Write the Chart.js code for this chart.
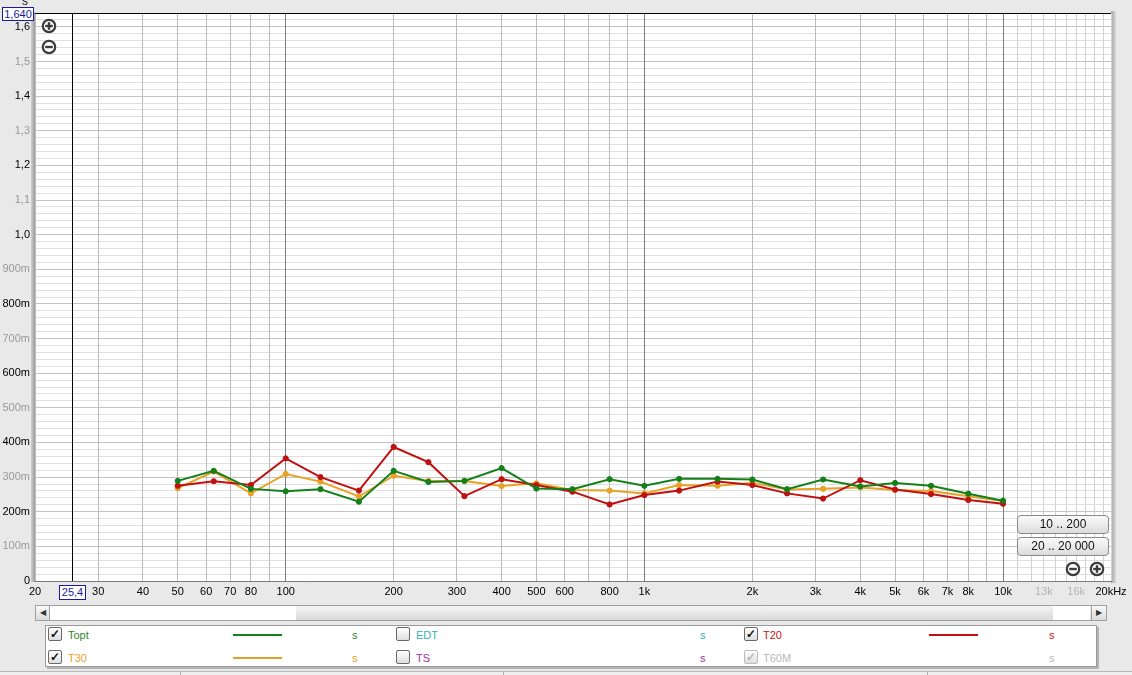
<!DOCTYPE html>
<html>
<head>
<meta charset="utf-8">
<script src="https://cdn.jsdelivr.net/npm/chart.js@4/dist/chart.umd.min.js"></script>
<style>
  html, body { margin:0; padding:0; }
  body { width:1132px; height:675px; overflow:hidden; position:relative; background:#e9e9e9; font-family:"Liberation Sans", Arial, sans-serif; font-size:11px; }
  #c { position:absolute; left:0; top:0; }
  .abs { position:absolute; }
  .vbox { position:absolute; background:#fff; border:1px solid #1a1a9a; color:#1a1a9a; font-size:11px; line-height:13px; text-align:center; box-sizing:border-box; }
  .btn { position:absolute; box-sizing:border-box; border:1px solid #8a8a8a; border-radius:4px; background:linear-gradient(#fbfbfb,#dcdcdc); font-size:12px; line-height:16px; text-align:center; color:#111; }
  .cb { position:absolute; width:14px; height:14px; box-sizing:border-box; border:1px solid #6a6a6a; border-radius:2px; background:linear-gradient(#ffffff,#dedede); font-size:12px; line-height:12px; text-align:center; color:#111; font-weight:bold; }
  .cb.dis { border-color:#bdbdbd; color:#b8b8b8; }
  .lbl { position:absolute; font-size:11px; line-height:13px; }
  .smp { position:absolute; height:2px; }
</style>
</head>
<body>
<canvas id="c" width="1132" height="600"></canvas>

<div class="abs" style="left:22px;top:-6px;font-size:12px;color:#111;">s</div>
<div class="vbox" style="left:2px;top:7px;width:32px;height:14px;">1,640</div>
<div class="vbox" style="left:59px;top:585px;width:27px;height:15px;">25,4</div>

<svg class="abs" style="left:40px;top:17px" width="18" height="18"><circle cx="9" cy="9" r="6.2" fill="#fff" stroke="#3c3c3c" stroke-width="2.2"/><line x1="5.2" y1="9" x2="12.8" y2="9" stroke="#3c3c3c" stroke-width="2.4"/><line x1="9" y1="5.2" x2="9" y2="12.8" stroke="#3c3c3c" stroke-width="2.4"/></svg>
<svg class="abs" style="left:40px;top:38px" width="18" height="18"><circle cx="9" cy="9" r="6.2" fill="#fff" stroke="#3c3c3c" stroke-width="2.2"/><line x1="5.2" y1="9" x2="12.8" y2="9" stroke="#3c3c3c" stroke-width="2.4"/></svg>
<svg class="abs" style="left:1064px;top:560px" width="18" height="18"><circle cx="9" cy="9" r="6.2" fill="#fff" stroke="#3c3c3c" stroke-width="2.2"/><line x1="5.2" y1="9" x2="12.8" y2="9" stroke="#3c3c3c" stroke-width="2.4"/></svg>
<svg class="abs" style="left:1088px;top:560px" width="18" height="18"><circle cx="9" cy="9" r="6.2" fill="#fff" stroke="#3c3c3c" stroke-width="2.2"/><line x1="5.2" y1="9" x2="12.8" y2="9" stroke="#3c3c3c" stroke-width="2.4"/><line x1="9" y1="5.2" x2="9" y2="12.8" stroke="#3c3c3c" stroke-width="2.4"/></svg>

<div class="btn" style="left:1017px;top:515px;width:92px;height:19px;">10 .. 200</div>
<div class="btn" style="left:1017px;top:537px;width:92px;height:19px;">20 .. 20 000</div>

<!-- scrollbar -->
<div class="abs" style="left:35px;top:605px;width:1072px;height:16px;box-sizing:border-box;border:1px solid #a0a0a0;background:linear-gradient(#f4f4f4,#dadada);"></div>
<div class="abs" style="left:50px;top:606px;width:246px;height:14px;background:#fff;"></div>
<div class="abs" style="left:1053px;top:606px;width:37px;height:14px;background:#fff;"></div>
<div class="abs" style="left:35px;top:605px;width:15px;height:16px;box-sizing:border-box;border:1px solid #a0a0a0;background:linear-gradient(#f8f8f8,#dcdcdc);font-size:8px;line-height:14px;text-align:center;color:#333;">&#9664;</div>
<div class="abs" style="left:1091px;top:605px;width:16px;height:16px;box-sizing:border-box;border:1px solid #a0a0a0;background:linear-gradient(#f8f8f8,#dcdcdc);font-size:8px;line-height:14px;text-align:center;color:#333;">&#9654;</div>

<!-- legend -->
<div class="abs" style="left:45px;top:625px;width:1052px;height:42px;box-sizing:border-box;border:1px solid #9a9a9a;background:#fff;box-shadow:2px 2px 0 #b5b5b5;"></div>

<div class="cb" style="left:48px;top:627px;">&#10003;</div>
<div class="lbl" style="left:68px;top:629px;color:#2a8a2a;">Topt</div>
<div class="smp" style="left:233px;top:634px;width:49px;background:#13801a;"></div>
<div class="lbl" style="left:352px;top:629px;color:#2a8a2a;">s</div>

<div class="cb" style="left:396px;top:627px;"></div>
<div class="lbl" style="left:416px;top:629px;color:#33b3b3;">EDT</div>
<div class="lbl" style="left:700px;top:629px;color:#33b3b3;">s</div>

<div class="cb" style="left:744px;top:627px;">&#10003;</div>
<div class="lbl" style="left:763px;top:629px;color:#c01818;">T20</div>
<div class="smp" style="left:929px;top:634px;width:49px;background:#c01010;"></div>
<div class="lbl" style="left:1049px;top:629px;color:#c01818;">s</div>

<div class="cb" style="left:48px;top:650px;">&#10003;</div>
<div class="lbl" style="left:68px;top:652px;color:#e8a02a;">T30</div>
<div class="smp" style="left:233px;top:657px;width:49px;background:#e0a028;"></div>
<div class="lbl" style="left:352px;top:652px;color:#e8a02a;">s</div>

<div class="cb" style="left:396px;top:650px;"></div>
<div class="lbl" style="left:416px;top:652px;color:#a030a8;">TS</div>
<div class="lbl" style="left:700px;top:652px;color:#a030a8;">s</div>

<div class="cb dis" style="left:744px;top:650px;">&#10003;</div>
<div class="lbl" style="left:763px;top:652px;color:#b8b8b8;">T60M</div>
<div class="lbl" style="left:1049px;top:652px;color:#b8b8b8;">s</div>

<!-- status bar -->
<div class="abs" style="left:0;top:671px;width:1132px;height:1px;background:#b8b8b8;"></div>
<div class="abs" style="left:0;top:672px;width:1132px;height:3px;background:#efefef;"></div>
<div class="abs" style="left:180px;top:672px;width:1px;height:3px;background:#b0b0b0;"></div>
<div class="abs" style="left:503px;top:672px;width:1px;height:3px;background:#b0b0b0;"></div>
<div class="abs" style="left:927px;top:672px;width:1px;height:3px;background:#b0b0b0;"></div>

<script>
// ---- data ----
const frequencies = [50,63,80,100,125,160,200,250,315,400,500,630,800,1000,1250,1600,2000,2500,3150,4000,5000,6300,8000,10000];
const toptValues = [0.289,0.318,0.266,0.259,0.265,0.229,0.318,0.286,0.289,0.326,0.267,0.265,0.294,0.275,0.295,0.295,0.293,0.265,0.293,0.273,0.283,0.275,0.252,0.232];
const t20Values  = [0.275,0.288,0.277,0.354,0.300,0.261,0.387,0.343,0.245,0.294,0.277,0.258,0.221,0.248,0.261,0.287,0.277,0.253,0.238,0.291,0.264,0.251,0.234,0.223];
const t30Values  = [0.268,0.316,0.253,0.309,0.287,0.244,0.304,0.289,0.289,0.274,0.282,0.263,0.261,0.253,0.277,0.275,0.284,0.264,0.266,0.270,0.263,0.260,0.245,0.231];

// tick labels
const xTickValues = [20,30,40,50,60,70,80,100,200,300,400,500,600,800,1000,2000,3000,4000,5000,6000,7000,8000,10000,13000,16000,20000];
const xTickLabels = ['20','30','40','50','60','70','80','100','200','300','400','500','600','800','1k','2k','3k','4k','5k','6k','7k','8k','10k','13k','16k','20kHz'];
const xDimLabels = ['13k','16k'];
const yTickValues = [0,0.1,0.2,0.3,0.4,0.5,0.6,0.7,0.8,0.9,1.0,1.1,1.2,1.3,1.4,1.5,1.6];
const yTickLabels = ['0','100m','200m','300m','400m','500m','600m','700m','800m','900m','1,0','1,1','1,2','1,3','1,4','1,5','1,6'];
const yMax = 1.64;
const cursorFreq = 25.4;

// grid positions
const xGrid = [];
for (let d = 10; d <= 1000; d *= 10) for (let m = (d === 10 ? 2 : 1); m <= 9; m++) xGrid.push(m * d);
for (let m = 10; m <= 20; m++) xGrid.push(m * 1000);
const yGrid = [];
for (let i = 0; i <= 82; i++) yGrid.push(i / 50);

const xLabelMap = {}; xTickValues.forEach((v, i) => xLabelMap[v] = xTickLabels[i]);
const isMajorY = v => Math.abs(v * 10 - Math.round(v * 10)) < 1e-6;
const yLabel = v => { const k = Math.round(v * 10); return isMajorY(v) && k <= 16 ? yTickLabels[k] : ''; };

const pts = vals => frequencies.map((f, i) => ({ x: f, y: vals[i] }));
const mk = (label, vals, color) => ({
  label, data: pts(vals), borderColor: color, backgroundColor: color,
  borderWidth: 2, pointRadius: 2.6, pointBorderWidth: 1, pointBackgroundColor: color, pointBorderColor: color, tension: 0
});

const frame = {
  id: 'frame',
  beforeDraw(chart) {
    const { ctx, chartArea: a } = chart;
    ctx.save();
    ctx.fillStyle = '#ffffff';
    ctx.fillRect(a.left, a.top, a.right - a.left, a.bottom - a.top);
    let g = ctx.createLinearGradient(a.left - 4, 0, a.left, 0);
    g.addColorStop(0, '#d0d0d0'); g.addColorStop(1, '#9c9c9c');
    ctx.fillStyle = g; ctx.fillRect(a.left - 4, a.top - 1, 4, a.bottom - a.top + 2);
    g = ctx.createLinearGradient(a.right, 0, a.right + 5, 0);
    g.addColorStop(0, '#a4a4a4'); g.addColorStop(1, '#dadada');
    ctx.fillStyle = g; ctx.fillRect(a.right, a.top - 2, 5, a.bottom - a.top + 4);
    ctx.restore();
  },
  beforeDatasetsDraw(chart) {
    const { ctx, chartArea: a, scales } = chart;
    const x = Math.round(scales.x.getPixelForValue(cursorFreq)) + 0.5;
    ctx.save();
    ctx.strokeStyle = '#000'; ctx.lineWidth = 1;
    ctx.beginPath(); ctx.moveTo(x, a.top); ctx.lineTo(x, a.bottom); ctx.stroke();
    ctx.beginPath(); ctx.moveTo(a.left, a.top + 0.5); ctx.lineTo(a.right, a.top + 0.5); ctx.stroke();
    ctx.restore();
  }
};

new Chart(document.getElementById('c'), {
  type: 'line',
  data: { datasets: [mk('Topt', toptValues, '#13801a'), mk('T20', t20Values, '#c01010'), mk('T30', t30Values, '#e8a225')] },
  options: {
    responsive: false, animation: false, events: [],
    layout: { padding: { top: 13, right: 21, left: 0, bottom: 0 } },
    plugins: { legend: { display: false }, tooltip: { enabled: false } },
    scales: {
      x: {
        type: 'logarithmic', min: 20, max: 20000, bounds: 'data',
        afterBuildTicks: s => { s.ticks = xGrid.map(v => ({ value: v })); },
        afterFit: s => { s.height = 19; },
        ticks: {
          autoSkip: false, maxRotation: 0, minRotation: 0, padding: 4,
          font: { family: '"Liberation Sans", Arial, sans-serif', size: 11 },
          color: c => xDimLabels.includes(xLabelMap[c.tick && c.tick.value]) ? '#b4b4b4' : '#000',
          callback: v => xLabelMap[v] || ''
        },
        grid: {
          drawTicks: false, lineWidth: 1, z: 0,
          color: c => {
            const v = c.tick ? c.tick.value : 0;
            if (v === 100 || v === 1000 || v === 10000) return '#7e7e7e';
            if (v > 10000) return '#d2d2d2';
            return '#bcbcbc';
          }
        },
        border: { display: true, color: '#7a7a7a', width: 1 }
      },
      y: {
        type: 'linear', min: 0, max: yMax, bounds: 'data',
        afterBuildTicks: s => { s.ticks = yGrid.map(v => ({ value: v })); },
        afterFit: s => { s.width = 35; },
        ticks: {
          autoSkip: false, padding: 5,
          font: { family: '"Liberation Sans", Arial, sans-serif', size: 11 },
          color: c => { const k = Math.round((c.tick ? c.tick.value : 0) * 10); return k % 2 === 0 ? '#000' : '#9a9a9a'; },
          callback: v => yLabel(v)
        },
        grid: {
          drawTicks: false, lineWidth: 1, z: -1,
          color: c => { const v = c.tick ? c.tick.value : 0; if (v >= yMax - 1e-6) return '#000'; return isMajorY(v) ? '#c4c4c4' : '#e0e0e0'; }
        },
        border: { display: false }
      }
    }
  },
  plugins: [frame]
});
</script>
</body>
</html>
